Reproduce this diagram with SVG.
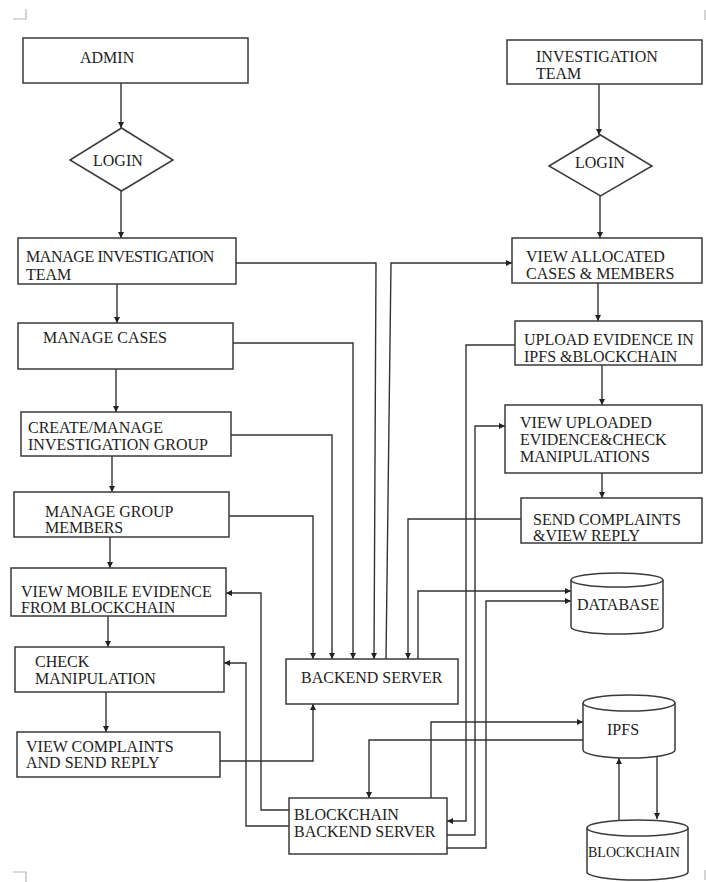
<svg xmlns="http://www.w3.org/2000/svg" width="706" height="882" viewBox="0 0 706 882">
<style>
  .box { fill: #fff; stroke: #3a3a3a; stroke-width: 1.5; }
  .lbl { font-family: "Liberation Serif", "Times New Roman", serif; font-size: 16px; fill: #222; }
  .sm { font-size: 14px; }
  .con { fill: none; stroke: #333; stroke-width: 1.4; }
  .mark { fill: none; stroke: #b8b8b8; stroke-width: 1.2; }
</style>
<defs>
  <marker id="arr" viewBox="0 0 10 10" refX="10" refY="5" markerWidth="6" markerHeight="6" markerUnits="userSpaceOnUse" orient="auto">
    <path d="M0,0 L10,5 L0,10 z" fill="#222"/>
  </marker>
</defs>
<rect width="706" height="882" fill="#fff"/>

<g id="corner-marks">
  <path class="mark" d="M13,19 H26 V9"/>
  <path class="mark" d="M705,10 V20"/>
  <path class="mark" d="M13,872 H26 V882"/>
  <path class="mark" d="M705,870 V880"/>
</g>

<g id="connectors">
  <path class="con" marker-end="url(#arr)" d="M121,83 V128"/>
  <path class="con" marker-end="url(#arr)" d="M121,191 V238"/>
  <path class="con" marker-end="url(#arr)" d="M117,284 V323"/>
  <path class="con" marker-end="url(#arr)" d="M116,369 V412"/>
  <path class="con" marker-end="url(#arr)" d="M112,456 V492"/>
  <path class="con" marker-end="url(#arr)" d="M110,537 V568"/>
  <path class="con" marker-end="url(#arr)" d="M108,616 V647"/>
  <path class="con" marker-end="url(#arr)" d="M106,692 V732"/>
  <path class="con" marker-end="url(#arr)" d="M599,84 V135"/>
  <path class="con" marker-end="url(#arr)" d="M600,196 V238"/>
  <path class="con" marker-end="url(#arr)" d="M598,283 V321"/>
  <path class="con" marker-end="url(#arr)" d="M602,365 V405"/>
  <path class="con" marker-end="url(#arr)" d="M602,473 V498"/>

  <path class="con" marker-end="url(#arr)" d="M236,263 H376 L374,659"/>
  <path class="con" marker-end="url(#arr)" d="M233,343 H353 V659"/>
  <path class="con" marker-end="url(#arr)" d="M231,435 H332 V659"/>
  <path class="con" marker-end="url(#arr)" d="M229,516 H313 V659"/>
  <path class="con" marker-end="url(#arr)" d="M386,659 L391,263 H512"/>
  <path class="con" marker-end="url(#arr)" d="M521,519 H408 V659"/>
  <path class="con" marker-end="url(#arr)" d="M418,659 V591 H571"/>
  <path class="con" marker-end="url(#arr)" d="M447,848 H486 V601 H571"/>
  <path class="con" marker-end="url(#arr)" d="M515,345 H466 V821 H447"/>
  <path class="con" marker-end="url(#arr)" d="M447,835 H475 V426 H505"/>
  <path class="con" marker-end="url(#arr)" d="M431,798 V722 H583"/>
  <path class="con" marker-end="url(#arr)" d="M583,740 H369 V798"/>
  <path class="con" marker-end="url(#arr)" d="M220,761 H313 V704"/>
  <path class="con" marker-end="url(#arr)" d="M289,810 H261 V593 H226"/>
  <path class="con" marker-end="url(#arr)" d="M289,826 H246 V663 H224"/>
  <path class="con" marker-end="url(#arr)" d="M619,821 V758"/>
  <path class="con" marker-end="url(#arr)" d="M657,757 V819"/>
</g>

<g id="admin">
  <rect class="box" x="23" y="38" width="225" height="45"/>
  <text class="lbl" x="80" y="63">ADMIN</text>
</g>
<g id="login-admin">
  <polygon class="box" points="121.5,128 173,160 121.5,191 70,160"/>
  <text class="lbl" x="93" y="166">LOGIN</text>
</g>
<g id="manage-investigation-team">
  <rect class="box" x="18" y="238" width="218" height="46"/>
  <text class="lbl" x="26" y="262" letter-spacing="-0.4">MANAGE INVESTIGATION</text>
  <text class="lbl" x="26" y="280">TEAM</text>
</g>
<g id="manage-cases">
  <rect class="box" x="18" y="323" width="215" height="46"/>
  <text class="lbl" x="43" y="343">MANAGE CASES</text>
</g>
<g id="create-manage-group">
  <rect class="box" x="21" y="412" width="210" height="44"/>
  <text class="lbl" x="28" y="433">CREATE/MANAGE</text>
  <text class="lbl" x="28" y="450">INVESTIGATION GROUP</text>
</g>
<g id="manage-group-members">
  <rect class="box" x="14" y="492" width="215" height="45"/>
  <text class="lbl" x="45" y="517">MANAGE GROUP</text>
  <text class="lbl" x="45" y="533">MEMBERS</text>
</g>
<g id="view-mobile-evidence">
  <rect class="box" x="11" y="568" width="215" height="48"/>
  <text class="lbl" x="21" y="597">VIEW MOBILE EVIDENCE</text>
  <text class="lbl" x="21" y="613">FROM BLOCKCHAIN</text>
</g>
<g id="check-manipulation">
  <rect class="box" x="15" y="647" width="209" height="45"/>
  <text class="lbl" x="35" y="667">CHECK</text>
  <text class="lbl" x="35" y="684">MANIPULATION</text>
</g>
<g id="view-complaints">
  <rect class="box" x="17" y="732" width="203" height="45"/>
  <text class="lbl" x="26" y="752">VIEW COMPLAINTS</text>
  <text class="lbl" x="26" y="768">AND SEND REPLY</text>
</g>

<g id="investigation-team">
  <rect class="box" x="507" y="40" width="195" height="44"/>
  <text class="lbl" x="536" y="62">INVESTIGATION</text>
  <text class="lbl" x="536" y="79">TEAM</text>
</g>
<g id="login-team">
  <polygon class="box" points="600.5,135 652,166 600.5,196 549,166"/>
  <text class="lbl" x="575" y="168">LOGIN</text>
</g>
<g id="view-allocated">
  <rect class="box" x="512" y="238" width="190" height="45"/>
  <text class="lbl" x="526" y="262">VIEW ALLOCATED</text>
  <text class="lbl" x="526" y="279">CASES &amp; MEMBERS</text>
</g>
<g id="upload-evidence">
  <rect class="box" x="515" y="321" width="187" height="44"/>
  <text class="lbl" x="524" y="345">UPLOAD EVIDENCE IN</text>
  <text class="lbl" x="524" y="362">IPFS &amp;BLOCKCHAIN</text>
</g>
<g id="view-uploaded">
  <rect class="box" x="505" y="405" width="197" height="68"/>
  <text class="lbl" x="520" y="428">VIEW UPLOADED</text>
  <text class="lbl" x="520" y="445">EVIDENCE&amp;CHECK</text>
  <text class="lbl" x="520" y="462">MANIPULATIONS</text>
</g>
<g id="send-complaints">
  <rect class="box" x="521" y="498" width="181" height="45"/>
  <text class="lbl" x="533" y="525">SEND COMPLAINTS</text>
  <text class="lbl" x="533" y="541">&amp;VIEW REPLY</text>
</g>

<g id="database">
  <path class="box" d="M571,580 V627 A46,7 0 0 0 663,627 V580"/>
  <ellipse class="box" cx="617" cy="580" rx="46" ry="7"/>
  <text class="lbl" x="577" y="610">DATABASE</text>
</g>
<g id="ipfs">
  <path class="box" d="M583,703 V750 A46,8 0 0 0 675,750 V703"/>
  <ellipse class="box" cx="629" cy="703" rx="46" ry="8"/>
  <text class="lbl" x="607" y="735">IPFS</text>
</g>
<g id="blockchain">
  <path class="box" d="M587,828 V872 A50.5,8 0 0 0 688,872 V828"/>
  <ellipse class="box" cx="637.5" cy="828" rx="50.5" ry="8"/>
  <text class="lbl sm" x="588" y="857">BLOCKCHAIN</text>
</g>

<g id="backend-server">
  <rect class="box" x="286" y="659" width="172" height="45"/>
  <text class="lbl" x="301" y="683">BACKEND SERVER</text>
</g>
<g id="blockchain-backend-server">
  <rect class="box" x="289" y="798" width="158" height="56"/>
  <text class="lbl" x="294" y="820">BLOCKCHAIN</text>
  <text class="lbl" x="294" y="837">BACKEND SERVER</text>
</g>
</svg>
